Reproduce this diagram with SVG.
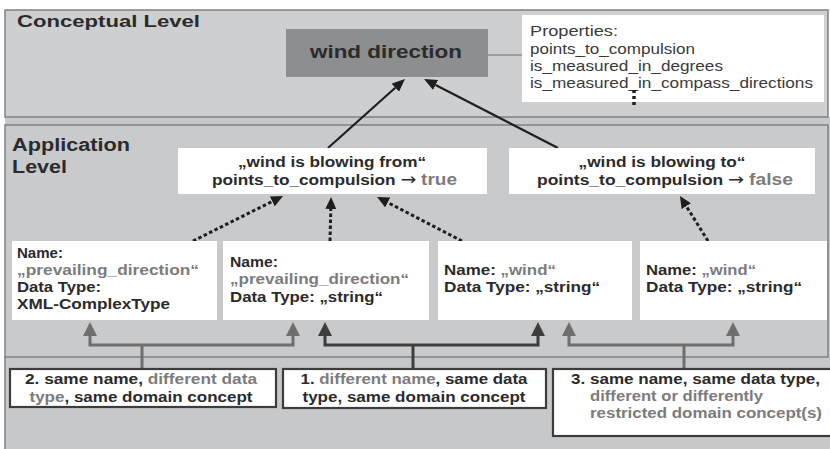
<svg xmlns="http://www.w3.org/2000/svg" width="830" height="449" viewBox="0 0 830 449">
<style>
text{font-family:"Liberation Sans",Arial,sans-serif;fill:#2b2b2b}
.b{font-weight:bold}
.t{font-size:14.5px;font-weight:bold}
.g{fill:#7c7c7c}
.ar{font-family:"DejaVu Sans",sans-serif;font-weight:normal;font-size:16px}
.p{font-size:15px;fill:#3a3a3a}
.panel{stroke:#7f8183;stroke-width:1.5}
.box{fill:#ffffff}
.lbl{fill:#ffffff;stroke:#3c3c3c;stroke-width:2.2}
.solid{stroke:#1e1e1e;stroke-width:2.2;fill:none}
.dash{stroke:#1e1e1e;stroke-width:3;stroke-dasharray:3.5 2.5;fill:none}
.br1{stroke:#3e3e3e;stroke-width:3;fill:none}
.br2{stroke:#6e6e6e;stroke-width:3;fill:none}
</style>
<defs>
<marker id="ah" markerUnits="userSpaceOnUse" markerWidth="13" markerHeight="11" refX="0" refY="5.5" orient="auto"><path d="M0,0 L13,5.5 L0,11 z" fill="#1e1e1e"/></marker>
<marker id="ad" markerUnits="userSpaceOnUse" markerWidth="12" markerHeight="11" refX="0" refY="5.5" orient="auto"><path d="M0,0 L12,5.5 L0,11 z" fill="#1e1e1e"/></marker>
<marker id="m1" markerUnits="userSpaceOnUse" markerWidth="14" markerHeight="14" refX="0" refY="7" orient="auto-start-reverse"><path d="M0,0 L14,7 L0,14 z" fill="#3e3e3e"/></marker>
<marker id="m2" markerUnits="userSpaceOnUse" markerWidth="14" markerHeight="14" refX="0" refY="7" orient="auto-start-reverse"><path d="M0,0 L14,7 L0,14 z" fill="#6e6e6e"/></marker>
</defs>
<rect x="0" y="0" width="830" height="449" fill="#ffffff"/>
<rect x="5" y="117" width="825" height="332" fill="#c6c8ca"/>
<rect class="panel" x="5" y="10" width="823" height="107" fill="#cdcfd1"/>
<rect class="panel" x="5" y="125" width="823" height="232" fill="#c8cacc"/>
<line x1="5" y1="357" x2="5" y2="449" stroke="#7f8183" stroke-width="1.5"/>
<text class="b" x="17" y="27" font-size="17" fill="#333" textLength="183" lengthAdjust="spacingAndGlyphs">Conceptual Level</text>
<text class="b" x="12" y="151" font-size="18" fill="#333" textLength="118" lengthAdjust="spacingAndGlyphs">Application</text>
<text class="b" x="12" y="173" font-size="18" fill="#333" textLength="55" lengthAdjust="spacingAndGlyphs">Level</text>

<g id="connectors">
<line x1="488" y1="55" x2="523" y2="55" stroke="#6a6a6a" stroke-width="1.2"/>
<line class="solid" x1="328" y1="148" x2="395.3" y2="87.7" marker-end="url(#ah)"/>
<line class="solid" x1="558" y1="148" x2="435.6" y2="85" marker-end="url(#ah)"/>
<line class="dash" x1="193" y1="241" x2="272.3" y2="201.4" marker-end="url(#ad)"/>
<line class="dash" x1="330" y1="241" x2="330.8" y2="209" marker-end="url(#ad)"/>
<line class="dash" x1="462" y1="241" x2="387.7" y2="202.5" marker-end="url(#ad)"/>
<line class="dash" x1="708" y1="241" x2="686.3" y2="206.2" marker-end="url(#ad)"/>
<path class="br2" d="M90,336 V345 H293 V336" marker-start="url(#m2)" marker-end="url(#m2)"/>
<line class="br2" x1="142" y1="345" x2="142" y2="369"/>
<path class="br1" d="M325,336 V345 H538 V336" marker-start="url(#m1)" marker-end="url(#m1)"/>
<line class="br1" x1="413" y1="345" x2="413" y2="369"/>
<path class="br2" d="M569,336 V345 H733 V336" marker-start="url(#m2)" marker-end="url(#m2)"/>
<line class="br2" x1="684" y1="345" x2="684" y2="369"/>
</g>

<g id="wind-direction">
<rect x="286" y="29" width="202" height="48" fill="#8d8e8f"/>
<text class="b" x="310" y="58" font-size="18" fill="#262626" textLength="152" lengthAdjust="spacingAndGlyphs">wind direction</text>
</g>

<g id="properties">
<rect class="box" x="522" y="15" width="302" height="87"/>
<text class="p" x="530" y="36" textLength="88" lengthAdjust="spacingAndGlyphs">Properties:</text>
<text class="p" x="530" y="54" textLength="165" lengthAdjust="spacingAndGlyphs">points_to_compulsion</text>
<text class="p" x="530" y="71" textLength="193" lengthAdjust="spacingAndGlyphs">is_measured_in_degrees</text>
<text class="p" x="530" y="88" textLength="283" lengthAdjust="spacingAndGlyphs">is_measured_in_compass_directions</text>
<line x1="634" y1="90" x2="634" y2="107" stroke="#1e1e1e" stroke-width="3.5" stroke-dasharray="3 3"/>
</g>

<g id="blowing-from">
<rect class="box" x="178" y="148" width="309" height="46"/>
<text class="t" x="332" y="167" text-anchor="middle" textLength="188" lengthAdjust="spacingAndGlyphs">„wind is blowing from“</text>
<text class="t" x="212" y="185" textLength="245" lengthAdjust="spacingAndGlyphs">points_to_compulsion <tspan class="ar">→</tspan> <tspan class="g" font-size="16">true</tspan></text>
</g>

<g id="blowing-to">
<rect class="box" x="509" y="148" width="306" height="46"/>
<text class="t" x="662" y="167" text-anchor="middle" textLength="167" lengthAdjust="spacingAndGlyphs">„wind is blowing to“</text>
<text class="t" x="537" y="185" textLength="256" lengthAdjust="spacingAndGlyphs">points_to_compulsion <tspan class="ar">→</tspan> <tspan class="g" font-size="16">false</tspan></text>
</g>

<g id="attr-a">
<rect class="box" x="12" y="241" width="205" height="79"/>
<text class="t" x="17" y="258" textLength="46" lengthAdjust="spacingAndGlyphs">Name:</text>
<text class="t g" x="17" y="275" textLength="182" lengthAdjust="spacingAndGlyphs">„prevailing_direction“</text>
<text class="t" x="17" y="292" textLength="84" lengthAdjust="spacingAndGlyphs">Data Type:</text>
<text class="t" x="17" y="309" textLength="153" lengthAdjust="spacingAndGlyphs">XML-ComplexType</text>
</g>

<g id="attr-b">
<rect class="box" x="223" y="241" width="206" height="79"/>
<text class="t" x="230" y="267" textLength="48" lengthAdjust="spacingAndGlyphs">Name:</text>
<text class="t g" x="230" y="284" textLength="179" lengthAdjust="spacingAndGlyphs">„prevailing_direction“</text>
<text class="t" x="230" y="302" textLength="153" lengthAdjust="spacingAndGlyphs">Data Type: „string“</text>
</g>

<g id="attr-c">
<rect class="box" x="438" y="241" width="194" height="79"/>
<text class="t" x="444" y="275" textLength="112" lengthAdjust="spacingAndGlyphs">Name: <tspan class="g">„wind“</tspan></text>
<text class="t" x="444" y="292" textLength="156" lengthAdjust="spacingAndGlyphs">Data Type: „string“</text>
</g>

<g id="attr-d">
<rect class="box" x="640" y="241" width="187" height="79"/>
<text class="t" x="646" y="275" textLength="110" lengthAdjust="spacingAndGlyphs">Name: <tspan class="g">„wind“</tspan></text>
<text class="t" x="646" y="292" textLength="156" lengthAdjust="spacingAndGlyphs">Data Type: „string“</text>
</g>

<g id="case-2">
<rect class="lbl" x="10" y="369" width="266" height="38"/>
<text class="t" x="141" y="384" text-anchor="middle" textLength="232" lengthAdjust="spacingAndGlyphs">2. same name, <tspan class="g">different data</tspan></text>
<text class="t" x="141" y="402" text-anchor="middle" textLength="223" lengthAdjust="spacingAndGlyphs"><tspan class="g">type</tspan>, same domain concept</text>
</g>

<g id="case-1">
<rect class="lbl" x="283" y="369" width="263" height="39"/>
<text class="t" x="414" y="384" text-anchor="middle" textLength="227" lengthAdjust="spacingAndGlyphs">1. <tspan class="g">different name</tspan>, same data</text>
<text class="t" x="414" y="402" text-anchor="middle" textLength="223" lengthAdjust="spacingAndGlyphs">type, same domain concept</text>
</g>

<g id="case-3">
<rect class="lbl" x="553" y="369" width="280" height="67"/>
<text class="t" x="571" y="384" textLength="249" lengthAdjust="spacingAndGlyphs">3. same name, same data type,</text>
<text class="t g" x="590" y="401" textLength="173" lengthAdjust="spacingAndGlyphs">different or differently</text>
<text class="t g" x="590" y="418" textLength="232" lengthAdjust="spacingAndGlyphs">restricted domain concept(s)</text>
</g>
</svg>
